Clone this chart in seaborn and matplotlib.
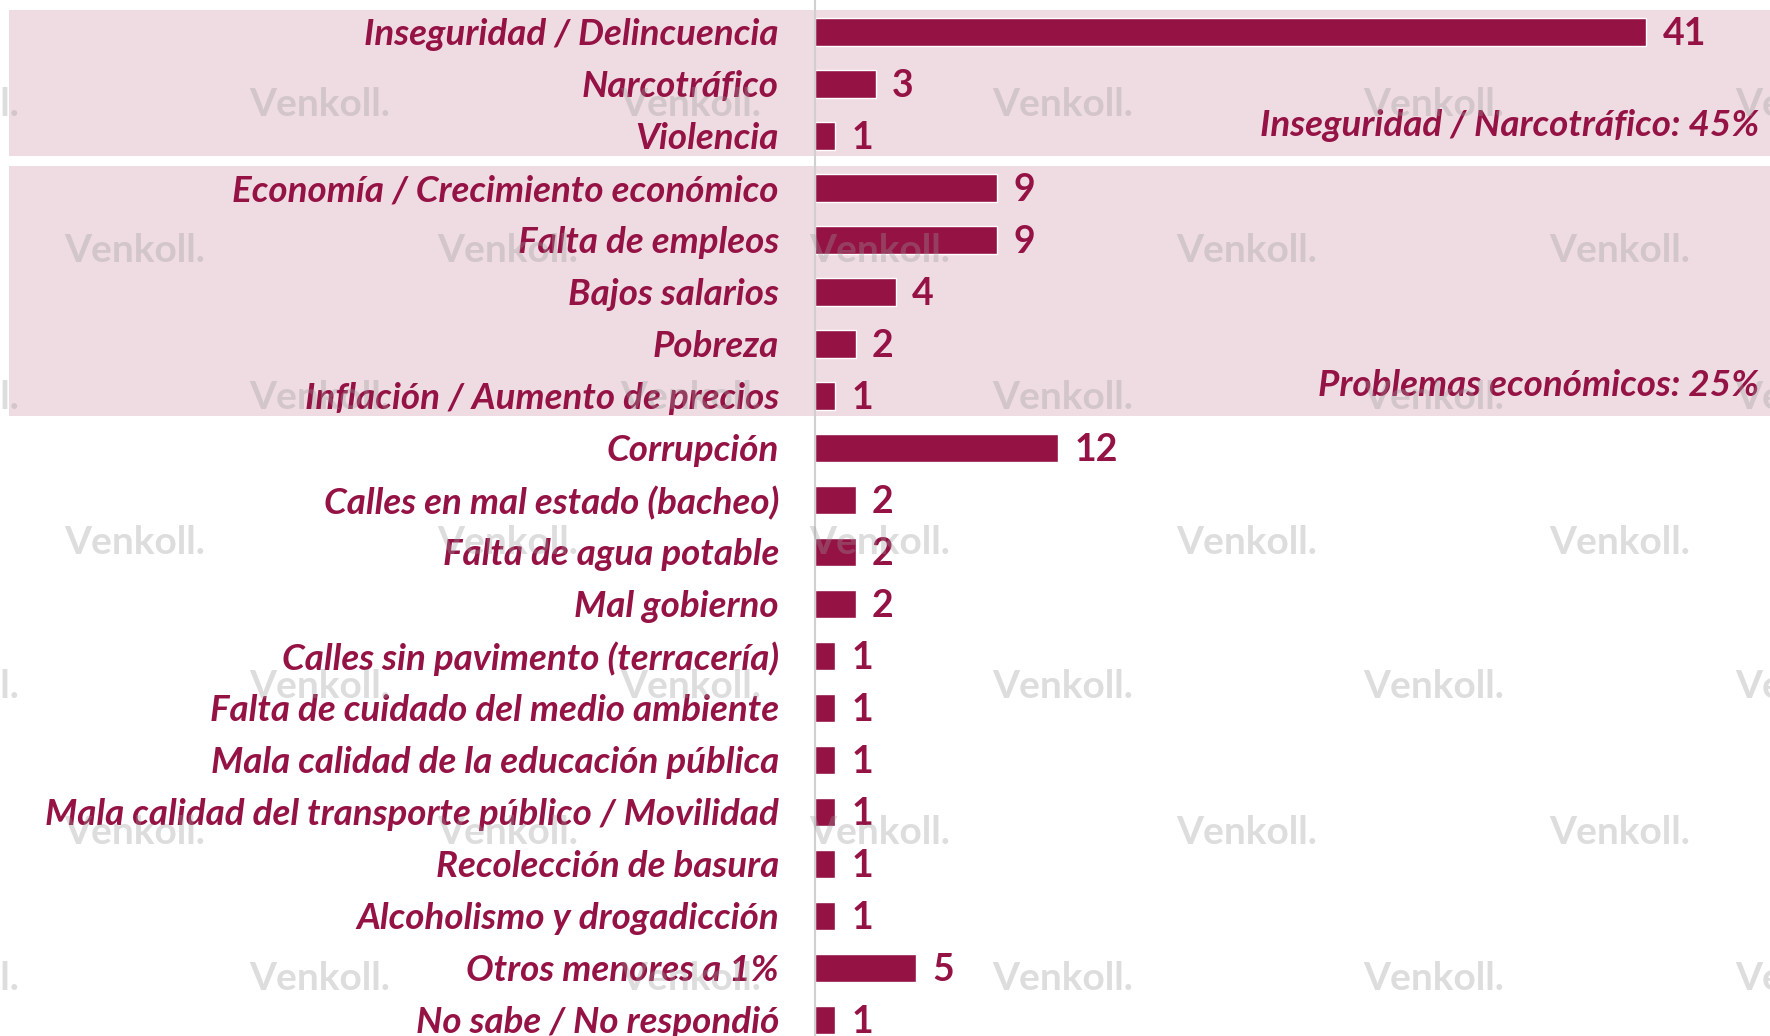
import matplotlib
matplotlib.use("Agg")
import matplotlib.pyplot as plt
import seaborn as sns
import pandas as pd
from matplotlib.patches import Rectangle
from matplotlib.transforms import blended_transform_factory

categories = [
    "Inseguridad / Delincuencia",
    "Narcotráfico",
    "Violencia",
    "Economía / Crecimiento económico",
    "Falta de empleos",
    "Bajos salarios",
    "Pobreza",
    "Inflación / Aumento de precios",
    "Corrupción",
    "Calles en mal estado (bacheo)",
    "Falta de agua potable",
    "Mal gobierno",
    "Calles sin pavimento (terracería)",
    "Falta de cuidado del medio ambiente",
    "Mala calidad de la educación pública",
    "Mala calidad del transporte público / Movilidad",
    "Recolección de basura",
    "Alcoholismo y drogadicción",
    "Otros menores a 1%",
    "No sabe / No respondió",
]
values = [41, 3, 1, 9, 9, 4, 2, 1, 12, 2, 2, 2, 1, 1, 1, 1, 1, 1, 5, 1]

group_labels = ["Inseguridad / Narcotráfico: 45%", "Problemas económicos: 25%"]
group_first = [0, 3]
group_last = [2, 7]

MAROON = "#951245"
BAND = "#EFDCE3"

sns.set_theme(style="white")
plt.rcParams['font.family'] = ['Lato', 'DejaVu Sans']

W, H = 1770, 1036
fig = plt.figure(figsize=(W / 100, H / 100), dpi=100)
fig.patch.set_facecolor("white")
ax_left = 815 / W
ax = fig.add_axes([ax_left, 0, 1 - ax_left, 1])
ax.patch.set_alpha(0)

df = pd.DataFrame({"cat": categories, "val": values})
sns.barplot(data=df, y="cat", x="val", color=MAROON, saturation=1,
            width=0.54, ax=ax, orient="h", zorder=2)

ax.set_xlim(0, 47.1)
ax.set_ylim(19.31, -0.615)
ax.set_xticks([])
ax.set_xlabel("")
ax.set_ylabel("")
for s in ["top", "right", "bottom"]:
    ax.spines[s].set_visible(False)
ax.spines["left"].set_color("#d0d0d0")
ax.spines["left"].set_linewidth(1.5)
ax.tick_params(axis="y", length=0, pad=26)
for lbl in ax.get_yticklabels():
    lbl.set_fontstyle("italic")
    lbl.set_fontweight("bold")
    lbl.set_fontsize(26.5)
    lbl.set_color(MAROON)

# value labels
for i, v in enumerate(values):
    ax.text(v + 0.8, i + 0.04, str(v), ha="left", va="center",
            fontsize=27, fontweight="bold", color=MAROON, zorder=4)

# group bands and labels
trans = blended_transform_factory(fig.transFigure, ax.transData)
for lab, a, b in zip(group_labels, group_first, group_last):
    top = a - 0.42
    bot = b + 0.39
    r = Rectangle((9 / W, top), 1.0, bot - top, transform=trans,
                  facecolor=BAND, edgecolor="none", clip_on=False, zorder=0)
    ax.add_patch(r)
    ax.text(1759 / W, b - 0.2, lab, transform=trans, ha="right", va="center",
            fontsize=26.5, fontstyle="italic", fontweight="bold",
            color=MAROON, zorder=4)

# watermarks
rows_y = [105, 251, 397, 543, 687, 833, 978]
odd_x = [-51, 320, 691, 1063, 1434, 1806]
even_x = [135, 508, 880, 1247, 1620]
for k, yy in enumerate(rows_y):
    xs = odd_x if k % 2 == 0 else even_x
    for xx in xs:
        fig.text(xx / W, 1 - yy / H, "Venkoll.", ha="center", va="center",
                 fontsize=28, fontweight="bold", color="#9a9a9a", alpha=0.33,
                 zorder=1)

fig.savefig("out.png", dpi=100)
